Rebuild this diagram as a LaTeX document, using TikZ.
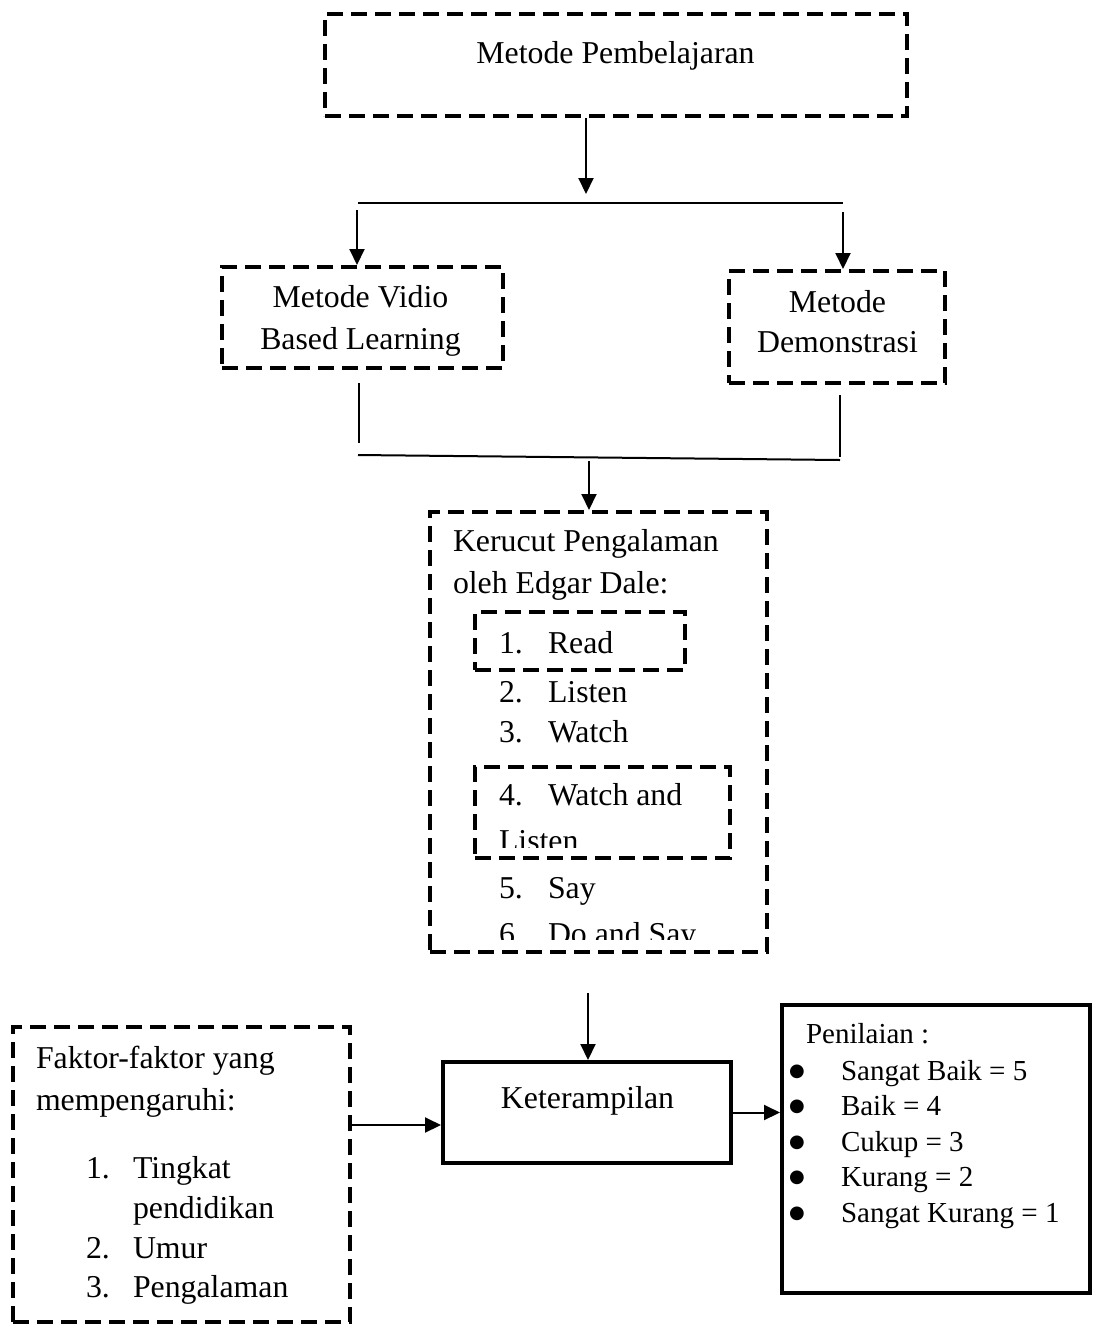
\documentclass[tikz,border=0pt]{standalone}
\usepackage{fontspec}
\setmainfont{Liberation Serif}
\newfontfamily\symfont{DejaVu Sans}
\usetikzlibrary{arrows.meta}
\tikzset{db/.style={draw,line width=2pt,dash pattern=on 8pt off 4pt,inner sep=0pt}}
\tikzset{sb/.style={draw,line width=2pt,inner sep=0pt}}
\tikzset{tx/.style={inner sep=0pt,anchor=base,font=\fontsize{15.9}{19}\selectfont}}
\tikzset{tw/.style={tx,anchor=base west}}
\tikzset{ts/.style={inner sep=0pt,anchor=base west,font=\fontsize{14.5}{17}\selectfont}}
\tikzset{bu/.style={inner sep=0pt,anchor=base,font=\symfont\fontsize{9}{9}\selectfont}}

\begin{document}
\begin{tikzpicture}[x=0.5pt,y=-0.5pt,line width=1pt,>={Triangle[length=8pt,width=7.5pt]}]
        \useasboundingbox (0,0) rectangle (1099,1324);
        % boxes
        \node[db,minimum width=291pt,minimum height=51pt] (mp) at (616,65) {};
        \node[db,minimum width=140.5pt,minimum height=50.5pt] (vbl) at (362.5,317.5) {};
        \node[db,minimum width=108pt,minimum height=56pt] (dem) at (837,327) {};
        \node[db,minimum width=168.5pt,minimum height=220pt] (kp) at (598.5,732) {};
        \node[db,minimum width=105pt,minimum height=29pt] (r1) at (580,641) {};
        \node[db,minimum width=127.5pt,minimum height=45.5pt] (r4) at (602.5,812.5) {};
        \node[sb,minimum width=144pt,minimum height=50.5pt] (ket) at (587,1112.5) {};
        \node[sb,minimum width=154pt,minimum height=144pt] (pen) at (936,1149) {};
        \node[db,minimum width=168.5pt,minimum height=147.5pt] (fak) at (181.5,1174.5) {};

        % texts
        \node[tx] (tmp) at (615.5,63) {Metode Pembelajaran};
        \node[tx] (tv1) at (360.5,307) {Metode Vidio};
        \node[tx] (tv2) at (360.5,349) {Based Learning};
        \node[tx] (td1) at (837.5,312) {Metode};
        \node[tx] (td2) at (837.5,352) {Demonstrasi};
        \node[tw] (tk1) at (452,551) {Kerucut Pengalaman};
        \node[tw] (tk2) at (452,593) {oleh Edgar Dale:};
        \foreach \n/\s/\y in {1/Read/653, 2/Listen/702, 3/Watch/742, 4/Watch and/805, 5/Say/898} {
          \node[tw] (kn\n) at (498,\y) {\n.};
          \node[tw] (ks\n) at (547,\y) {\s};
        }
        \begin{scope}
          \clip (400,800) rectangle (800,847);
          \node[tw] (ks4b) at (498,851) {Listen};
        \end{scope}
        \begin{scope}
          \clip (400,900) rectangle (800,939);
          \node[tw] (kn6) at (498,944) {6.};
          \node[tw] (ks6) at (547,944) {Do and Say};
        \end{scope}
        \node[tx] (tket) at (587.5,1108) {Keterampilan};
        \node[ts] (tpen) at (805,1043) {Penilaian :};
        \foreach \s/\y [count=\i] in {Sangat Baik = 5/1080, Baik = 4/1115.5, Cukup = 3/1151, Kurang = 2/1186.5, Sangat Kurang = 1/1222} {
          \node[bu] (pb\i) at (797,\y-4) {●};
          \node[ts] (ps\i) at (840,\y) {\s};
        }
        \node[tw] (tf1) at (35,1068) {Faktor-faktor yang};
        \node[tw] (tf2) at (35,1110) {mempengaruhi:};
        \foreach \n/\s/\y in {1./Tingkat/1178, /pendidikan/1218, 2./Umur/1258, 3./Pengalaman/1297} {
          \node[tw] at (85,\y) {\n};
          \node[tw] at (132,\y) {\s};
        }

        % connectors
        \coordinate (a1) at (586,194);
        \draw [->] (mp.south -| a1) -- (a1);
        \coordinate (hl) at (358,203);
        \coordinate (hr) at (843,203);
        \draw (hl) -- (hr);
        \coordinate (bl) at (357,210);
        \coordinate (br) at (843,212);
        \draw [->] (bl) -- (bl |- vbl.north);
        \draw [->] (br) -- (br |- dem.north);
        \coordinate (ul) at (359,383);
        \coordinate (ll) at (359,443);
        \coordinate (ur) at (840,395);
        \coordinate (lr) at (840,457);
        \draw (ul) -- (ll);
        \draw (ur) -- (lr);
        \draw (358,455) coordinate (ml) -- (840,460) coordinate (mr);
        \coordinate (a2) at (589,461);
        \draw [->] (a2) -- (a2 |- kp.north);
        \coordinate (a3) at (588,993);
        \draw [->] (a3) -- (a3 |- ket.north);
        \coordinate (f1) at (352,1125);
        \draw [->] (f1) -- (f1 -| ket.west);
        \draw [->] (ket.east) -- (ket.east -| pen.west);
      \end{tikzpicture}
\end{document}
